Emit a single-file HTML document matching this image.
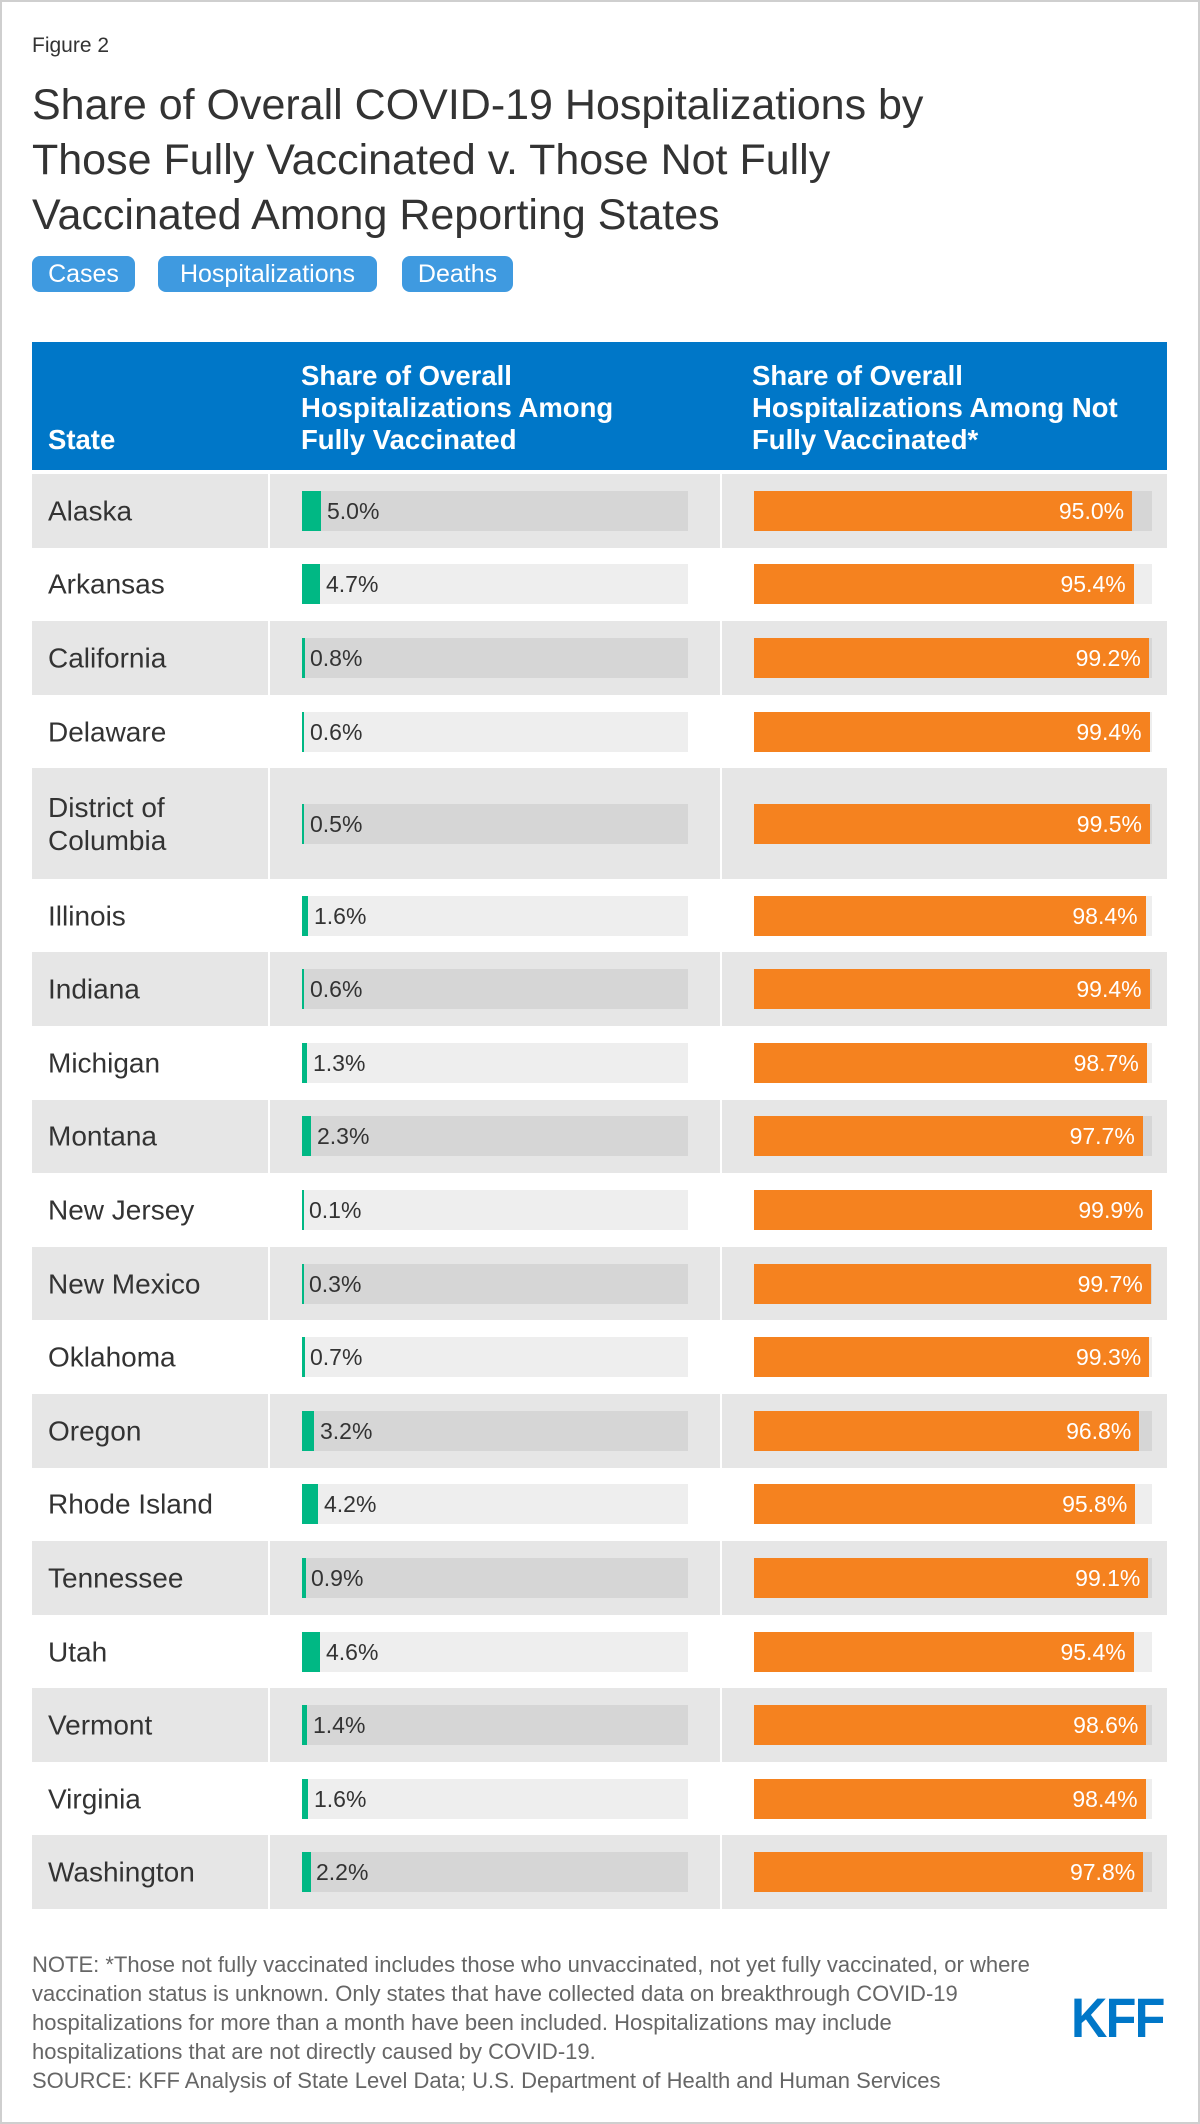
<!DOCTYPE html>
<html><head><meta charset="utf-8"><style>
*{margin:0;padding:0;box-sizing:border-box}
body{width:1200px;height:2124px;background:#fff;font-family:"Liberation Sans",Arial,sans-serif;color:#333;position:relative;overflow:hidden}
.frame{position:absolute;left:0;top:0;width:1200px;height:2124px;border:2px solid #cfcfcf}
.fig{position:absolute;left:32px;top:34px;font-size:21px;color:#333}
.title{position:absolute;left:32px;top:78px;font-size:43px;line-height:55px;color:#333;width:1140px;white-space:nowrap}
.btn{position:absolute;top:256px;height:36px;background:#3f9ae0;color:#fff;border-radius:8px;font-size:25px;line-height:36px;text-align:center}
.head{position:absolute;left:32px;top:342px;width:1135px;height:128px;background:#0077c8;color:#fff;font-weight:bold;font-size:27.5px;line-height:32px}
.head div{position:absolute;bottom:14px;white-space:nowrap}
.rows{position:absolute;left:32px;top:474px;width:1135px}
.row{position:relative;width:1135px}
.row.g{background:#e6e6e6}
.row.g .s1,.row.g .s2{position:absolute;top:0;bottom:0;width:2px;background:#fff}
.s1{left:236px}.s2{left:688px}
.st{position:absolute;left:16px;top:50%;transform:translateY(-50%);font-size:28px;line-height:33px}
.t1{position:absolute;left:270px;width:386px;height:40px;top:50%;margin-top:-20px;background:#eee}
.t2{position:absolute;left:722px;width:398px;height:40px;top:50%;margin-top:-20px;background:#eee}
.row.g .t1,.row.g .t2{background:#d6d6d6}
.gb{position:absolute;left:0;top:0;height:40px;background:#00b884}
.gl{position:absolute;top:0;line-height:40px;font-size:23px;color:#333}
.ob{position:absolute;left:0;top:0;height:40px;background:#f5821f;color:#fff;font-size:23px;line-height:40px;text-align:right;padding-right:8px}
.note{position:absolute;left:32px;top:1950px;font-size:22px;line-height:29px;color:#666;width:1060px;white-space:nowrap}
.kff{position:absolute;left:1071px;top:1990px;font-size:56px;font-weight:bold;color:#0077c8;transform:scaleX(0.9);transform-origin:left top;letter-spacing:-2px;line-height:56px}
</style></head><body>
<div class="frame"></div>
<div class="fig">Figure 2</div>
<div class="title">Share of Overall COVID-19 Hospitalizations by<br>Those Fully Vaccinated v. Those Not Fully<br>Vaccinated Among Reporting States</div>
<div class="btn" style="left:32px;width:103px">Cases</div>
<div class="btn" style="left:158px;width:219px">Hospitalizations</div>
<div class="btn" style="left:402px;width:111px">Deaths</div>
<div class="head">
<div style="left:16px">State</div>
<div style="left:269px">Share of Overall<br>Hospitalizations Among<br>Fully Vaccinated</div>
<div style="left:720px">Share of Overall<br>Hospitalizations Among Not<br>Fully Vaccinated*</div>
</div>
<div class="rows">
<div class="row g" style="height:73.6px"><div class="s1"></div><div class="s2"></div><div class="st">Alaska</div><div class="t1"><div class="gb" style="width:19.3px"></div><div class="gl" style="left:25px">5.0%</div></div><div class="t2"><div class="ob" style="width:378.1px">95.0%</div></div></div>
<div class="row" style="height:73.6px"><div class="st">Arkansas</div><div class="t1"><div class="gb" style="width:18.1px"></div><div class="gl" style="left:24px">4.7%</div></div><div class="t2"><div class="ob" style="width:379.7px">95.4%</div></div></div>
<div class="row g" style="height:73.6px"><div class="s1"></div><div class="s2"></div><div class="st">California</div><div class="t1"><div class="gb" style="width:3.1px"></div><div class="gl" style="left:8px">0.8%</div></div><div class="t2"><div class="ob" style="width:394.8px">99.2%</div></div></div>
<div class="row" style="height:73.6px"><div class="st">Delaware</div><div class="t1"><div class="gb" style="width:2.3px"></div><div class="gl" style="left:8px">0.6%</div></div><div class="t2"><div class="ob" style="width:395.6px">99.4%</div></div></div>
<div class="row g" style="height:110.4px"><div class="s1"></div><div class="s2"></div><div class="st">District of<br>Columbia</div><div class="t1"><div class="gb" style="width:2px"></div><div class="gl" style="left:8px">0.5%</div></div><div class="t2"><div class="ob" style="width:396px">99.5%</div></div></div>
<div class="row" style="height:73.6px"><div class="st">Illinois</div><div class="t1"><div class="gb" style="width:6.2px"></div><div class="gl" style="left:12px">1.6%</div></div><div class="t2"><div class="ob" style="width:391.6px">98.4%</div></div></div>
<div class="row g" style="height:73.6px"><div class="s1"></div><div class="s2"></div><div class="st">Indiana</div><div class="t1"><div class="gb" style="width:2.3px"></div><div class="gl" style="left:8px">0.6%</div></div><div class="t2"><div class="ob" style="width:395.6px">99.4%</div></div></div>
<div class="row" style="height:73.6px"><div class="st">Michigan</div><div class="t1"><div class="gb" style="width:5px"></div><div class="gl" style="left:11px">1.3%</div></div><div class="t2"><div class="ob" style="width:392.8px">98.7%</div></div></div>
<div class="row g" style="height:73.6px"><div class="s1"></div><div class="s2"></div><div class="st">Montana</div><div class="t1"><div class="gb" style="width:8.9px"></div><div class="gl" style="left:15px">2.3%</div></div><div class="t2"><div class="ob" style="width:388.8px">97.7%</div></div></div>
<div class="row" style="height:73.6px"><div class="st">New Jersey</div><div class="t1"><div class="gb" style="width:1.5px"></div><div class="gl" style="left:7px">0.1%</div></div><div class="t2"><div class="ob" style="width:397.6px">99.9%</div></div></div>
<div class="row g" style="height:73.6px"><div class="s1"></div><div class="s2"></div><div class="st">New Mexico</div><div class="t1"><div class="gb" style="width:1.5px"></div><div class="gl" style="left:7px">0.3%</div></div><div class="t2"><div class="ob" style="width:396.8px">99.7%</div></div></div>
<div class="row" style="height:73.6px"><div class="st">Oklahoma</div><div class="t1"><div class="gb" style="width:2.7px"></div><div class="gl" style="left:8px">0.7%</div></div><div class="t2"><div class="ob" style="width:395.2px">99.3%</div></div></div>
<div class="row g" style="height:73.6px"><div class="s1"></div><div class="s2"></div><div class="st">Oregon</div><div class="t1"><div class="gb" style="width:12.4px"></div><div class="gl" style="left:18px">3.2%</div></div><div class="t2"><div class="ob" style="width:385.3px">96.8%</div></div></div>
<div class="row" style="height:73.6px"><div class="st">Rhode Island</div><div class="t1"><div class="gb" style="width:16.2px"></div><div class="gl" style="left:22px">4.2%</div></div><div class="t2"><div class="ob" style="width:381.3px">95.8%</div></div></div>
<div class="row g" style="height:73.6px"><div class="s1"></div><div class="s2"></div><div class="st">Tennessee</div><div class="t1"><div class="gb" style="width:3.5px"></div><div class="gl" style="left:9px">0.9%</div></div><div class="t2"><div class="ob" style="width:394.4px">99.1%</div></div></div>
<div class="row" style="height:73.6px"><div class="st">Utah</div><div class="t1"><div class="gb" style="width:17.8px"></div><div class="gl" style="left:24px">4.6%</div></div><div class="t2"><div class="ob" style="width:379.7px">95.4%</div></div></div>
<div class="row g" style="height:73.6px"><div class="s1"></div><div class="s2"></div><div class="st">Vermont</div><div class="t1"><div class="gb" style="width:5.4px"></div><div class="gl" style="left:11px">1.4%</div></div><div class="t2"><div class="ob" style="width:392.4px">98.6%</div></div></div>
<div class="row" style="height:73.6px"><div class="st">Virginia</div><div class="t1"><div class="gb" style="width:6.2px"></div><div class="gl" style="left:12px">1.6%</div></div><div class="t2"><div class="ob" style="width:391.6px">98.4%</div></div></div>
<div class="row g" style="height:73.6px"><div class="s1"></div><div class="s2"></div><div class="st">Washington</div><div class="t1"><div class="gb" style="width:8.5px"></div><div class="gl" style="left:14px">2.2%</div></div><div class="t2"><div class="ob" style="width:389.2px">97.8%</div></div></div>
</div>
<div class="note">NOTE: *Those not fully vaccinated includes those who unvaccinated, not yet fully vaccinated, or where<br>vaccination status is unknown. Only states that have collected data on breakthrough COVID-19<br>hospitalizations for more than a month have been included. Hospitalizations may include<br>hospitalizations that are not directly caused by COVID-19.<br>SOURCE: KFF Analysis of State Level Data; U.S. Department of Health and Human Services</div>
<div class="kff">KFF</div>
</body></html>
